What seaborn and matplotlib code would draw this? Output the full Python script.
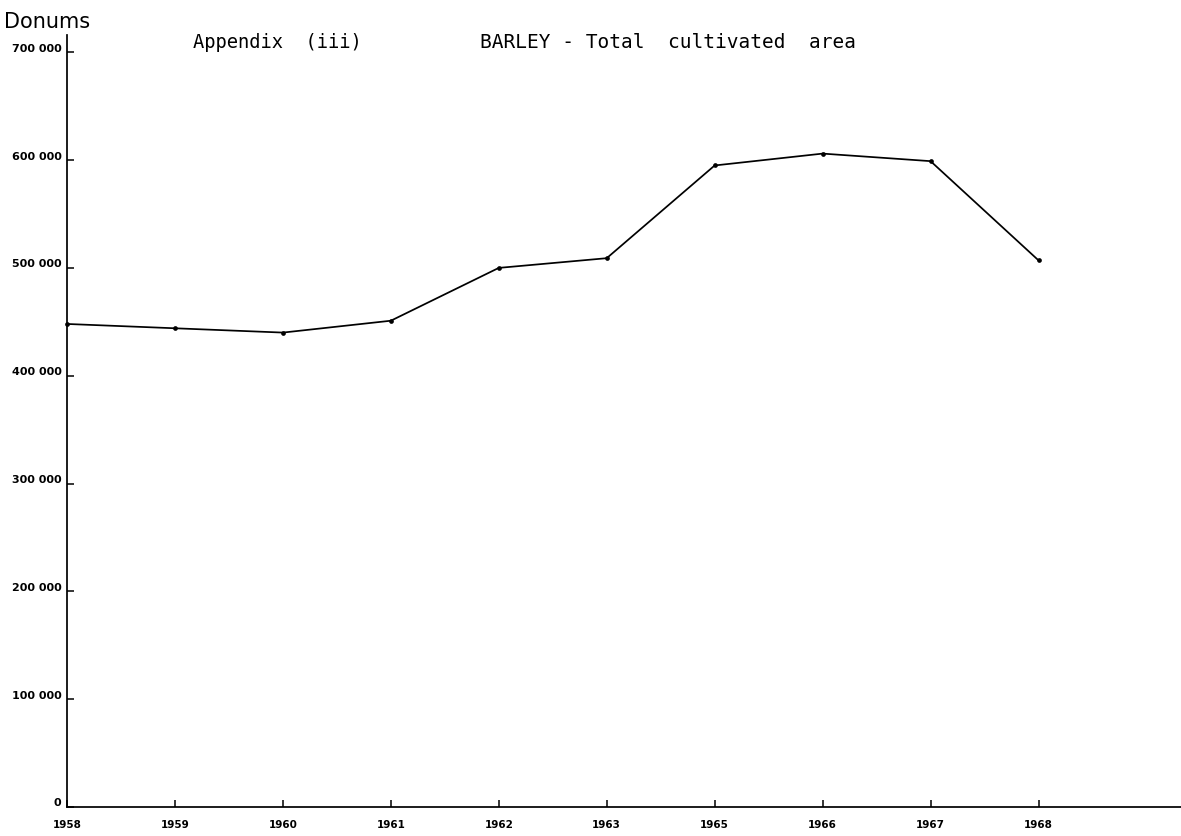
import matplotlib
matplotlib.use("Agg")
import matplotlib.pyplot as plt
import matplotlib.transforms as mtransforms
import pandas as pd
import seaborn as sns

# Barley, total cultivated area (donums) by season
years = ["1958", "1959", "1960", "1961", "1962", "1963", "1965", "1966", "1967", "1968"]
area_donums = [448000, 444000, 440000, 451000, 500000, 509000, 595000, 606000, 599000, 507000]

y_ticks = [0, 100000, 200000, 300000, 400000, 500000, 600000, 700000]
y_tick_labels = ["0", "100 000", "200 000", "300 000", "400 000", "500 000", "600 000", "700 000"]

sns.set_theme(style="white")
plt.rcParams["font.family"] = ["DejaVu Sans"]

LETTERING = "DejaVu Sans Mono"

W, H = 1181, 836
fig = plt.figure(figsize=(W / 100, H / 100), dpi=100)
ax = fig.add_axes([67 / W, 29 / H, 1114 / W, 772 / H])

df = pd.DataFrame({"year": years, "area": area_donums})
sns.lineplot(
    data=df, x="year", y="area", sort=False, ax=ax,
    color="black", linewidth=1.25,
    marker="o", markersize=3.4, markeredgewidth=0,
)
for line in ax.lines:
    line.set_clip_on(False)

ax.set_xlim(0, 10.32)
ax.set_ylim(0, 716000)

ax.set_yticks(y_ticks)
ax.set_yticklabels(y_tick_labels)
ax.set_xticks(range(len(years)))
ax.set_xticklabels(years)

ax.set_xlabel("")
ax.set_ylabel("")

for side in ("top", "right"):
    ax.spines[side].set_visible(False)
for side in ("left", "bottom"):
    ax.spines[side].set_color("black")
    ax.spines[side].set_linewidth(1.25)

ax.tick_params(axis="both", direction="in", length=5, width=1.1, color="black",
               left=True, bottom=True)
ax.tick_params(axis="y", pad=4, labelsize=8, labelcolor="black")
ax.tick_params(axis="x", pad=9, labelsize=7.5, labelcolor="black")
for lab in ax.get_yticklabels() + ax.get_xticklabels():
    lab.set_fontweight("bold")

# y labels sit slightly above their ticks
shift = mtransforms.ScaledTranslation(0, 4.5 / 100, fig.dpi_scale_trans)
for lab in ax.get_yticklabels():
    lab.set_transform(lab.get_transform() + shift)

fig.text(4 / W, 1 - 22 / H, "Donums", fontsize=15, ha="left", va="center", color="black")
fig.text(193 / W, 1 - 42 / H, "Appendix  (iii)", fontsize=13.5, family=LETTERING,
         ha="left", va="center", color="black")
fig.text(480 / W, 1 - 42 / H, "BARLEY - Total  cultivated  area", fontsize=14,
         family=LETTERING, ha="left", va="center", color="black")

fig.savefig("out.png", dpi=100, facecolor="white")
